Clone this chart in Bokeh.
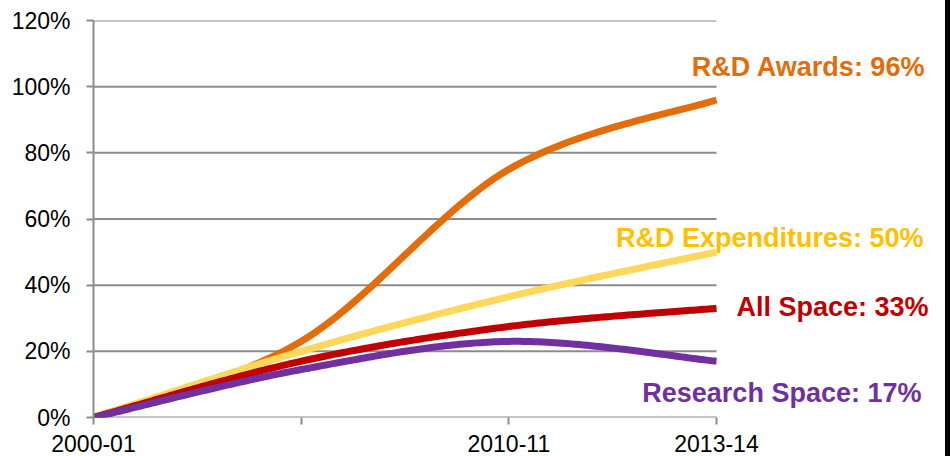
import numpy as np
from bokeh.plotting import figure
from bokeh.models import Range1d, FixedTicker, PrintfTickFormatter, Label, Spacer
from bokeh.layouts import row
from bokeh.embed import file_html
from bokeh.resources import INLINE

# ---- data ----
categories = ["2000-01", "2005-06", "2010-11", "2013-14"]
tick_labels = ["2000-01", "", "2010-11", "2013-14"]
rd_awards = [0, 23, 75, 96]
rd_expenditures = [0, 20, 36.5, 50]
all_space = [0, 17, 27.5, 33]
research_space = [0, 14.5, 23, 17]
y_ticks = [0, 20, 40, 60, 80, 100, 120]

series = [
    ("R&D Awards: 96%", rd_awards, "#E46C0A", "#E46C0A"),
    ("R&D Expenditures: 50%", rd_expenditures, "#FFD75A", "#FFC000"),
    ("All Space: 33%", all_space, "#C00000", "#C00000"),
    ("Research Space: 17%", research_space, "#7030A0", "#7030A0"),
]


def smooth(xs, ys, n=60):
    """Catmull-Rom style Bezier smoothing (like Excel's smoothed lines)."""
    xs = np.asarray(xs, float)
    ys = np.asarray(ys, float)
    P = np.column_stack([xs, ys])
    m = len(P)
    out = []
    t = np.linspace(0, 1, n)
    for i in range(m - 1):
        p0 = P[i]
        p3 = P[i + 1]
        pm = P[i - 1] if i > 0 else P[i]
        pp = P[i + 2] if i + 2 < m else P[i + 1]
        c1 = p0 + (p3 - pm) / 6.0
        c2 = p3 - (pp - p0) / 6.0
        seg = ((1 - t)[:, None] ** 3 * p0 + 3 * ((1 - t) ** 2 * t)[:, None] * c1
               + 3 * ((1 - t) * t ** 2)[:, None] * c2 + (t ** 3)[:, None] * p3)
        if i > 0:
            seg = seg[1:]
        out.append(seg)
    out = np.vstack(out)
    return out[:, 0], out[:, 1]


x_idx = list(range(len(categories)))
last = len(categories) - 1

# plot frame: category axis spans 93..716 px; frame continues to 945 px for labels
FRAME_L, FRAME_R_AXIS, FRAME_R = 93, 716, 945
x_end = last * (FRAME_R - FRAME_L) / (FRAME_R_AXIS - FRAME_L)

p = figure(width=945, height=456, output_backend="svg", toolbar_location=None,
           x_range=Range1d(0, x_end), y_range=Range1d(0, 120))
p.min_border_left = FRAME_L
p.min_border_right = 0
p.min_border_top = 20
p.min_border_bottom = 39
p.outline_line_color = None
p.background_fill_color = "white"
p.border_fill_color = "white"

grid_col = "#8C8C8C"
font = "Liberation Sans"

# axes
p.xaxis.ticker = FixedTicker(ticks=x_idx)
p.xaxis.major_label_overrides = {i: lab for i, lab in zip(x_idx, tick_labels)}
p.yaxis.ticker = FixedTicker(ticks=y_ticks)
p.yaxis.formatter = PrintfTickFormatter(format="%d%%")
for ax in (p.xaxis[0], p.yaxis[0]):
    ax.axis_line_color = grid_col
    ax.axis_line_width = 2
    ax.major_tick_line_color = grid_col
    ax.major_tick_line_width = 2
    ax.major_tick_in = 0
    ax.major_tick_out = 7
    ax.minor_tick_line_color = None
    ax.major_label_text_font = font
    ax.major_label_text_font_size = "23px"
    ax.major_label_text_color = "black"
p.xaxis.axis_line_color = None
p.yaxis.major_label_standoff = 16
p.xaxis.major_label_standoff = 10

p.xgrid.grid_line_color = None
p.ygrid.grid_line_color = None

# horizontal gridlines (incl. the 0% baseline) only across the category span
p.segment(x0=[0] * len(y_ticks), x1=[last] * len(y_ticks), y0=y_ticks, y1=y_ticks,
          line_color=grid_col, line_width=2)

for name, vals, lcol, tcol in series:
    sx, sy = smooth(x_idx, vals)
    p.line(sx, sy, line_color=lcol, line_width=7, line_cap="butt", line_join="round")

# end labels (right edge x in category units, vertical centre in %)
label_pos = [(4.006, 105.8), (3.997, 54.3), (4.021, 33.4), (3.987, 7.4)]
for (name, vals, lcol, tcol), (lx, ly) in zip(series, label_pos):
    p.add_layout(Label(x=lx, y=ly, text=name, text_align="right", text_baseline="middle",
                       text_font=font, text_font_style="bold", text_font_size="27px",
                       text_color=tcol))

strip = Spacer(width=5, height=456, styles={"background-color": "black"})
layout = row(p, strip, spacing=0)

open("out.html", "w").write(file_html(layout, INLINE))
